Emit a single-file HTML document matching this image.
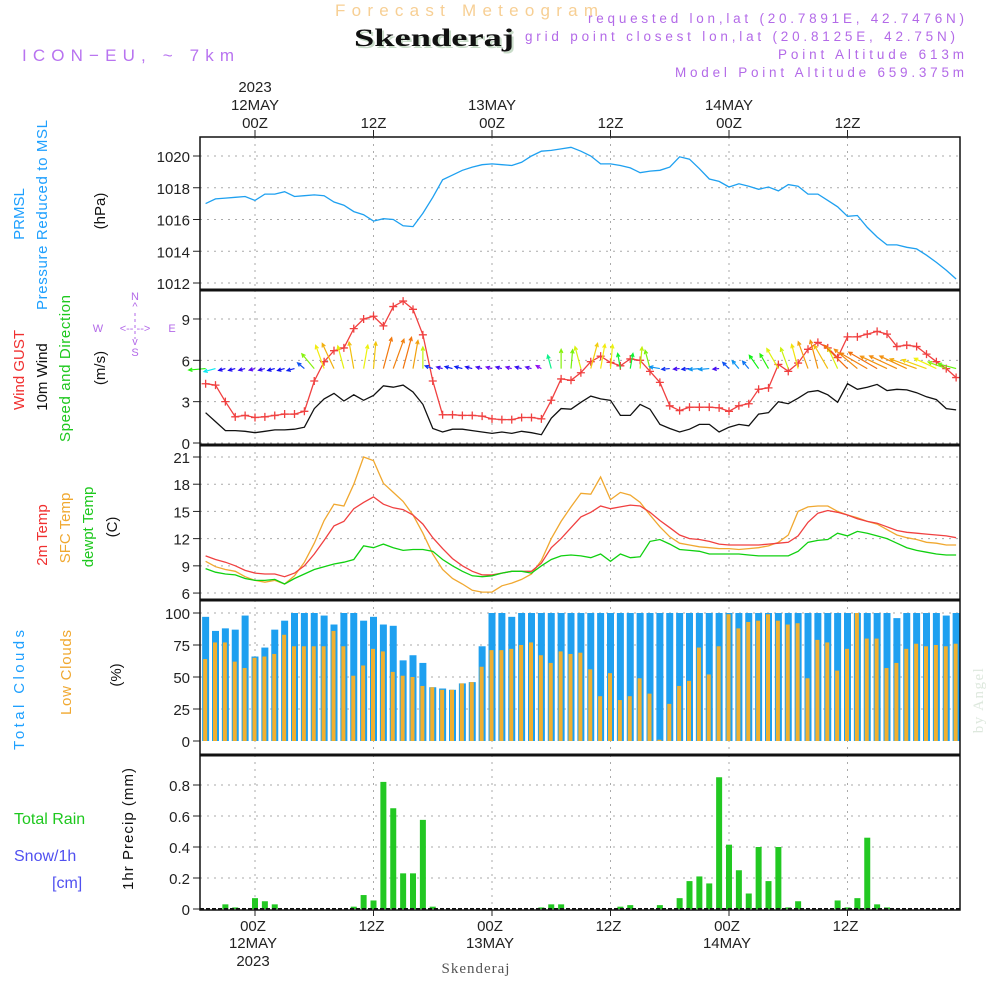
<!DOCTYPE html>
<html><head><meta charset="utf-8"><style>
html,body{margin:0;padding:0;background:#fff;}
svg{display:block;font-family:"Liberation Sans",sans-serif;}
</style></head><body>
<svg id="chart" width="1000" height="1000" viewBox="0 0 1000 1000" xmlns="http://www.w3.org/2000/svg">
<g>
<text x="335" y="16" font-size="17" fill="#f7cf94" textLength="263" lengthAdjust="spacing">Forecast Meteogram</text>
<text x="356" y="48" font-size="25" font-weight="bold" font-family="Liberation Serif,serif" fill="#c9dcc9" textLength="160" lengthAdjust="spacingAndGlyphs">Skenderaj</text>
<text x="354" y="46" font-size="25" font-weight="bold" font-family="Liberation Serif,serif" fill="#111" textLength="160" lengthAdjust="spacingAndGlyphs">Skenderaj</text>
<text x="22" y="61" font-size="17" fill="#b873f0" textLength="212" lengthAdjust="spacing">ICON−EU, ~ 7km</text>
<g font-size="13.5" fill="#b36ae8">
<text x="588" y="23" textLength="376" lengthAdjust="spacing">requested lon,lat (20.7891E, 42.7476N)</text>
<text x="525" y="41" textLength="430" lengthAdjust="spacing">grid point closest lon,lat (20.8125E, 42.75N)</text>
<text x="778" y="59" textLength="186" lengthAdjust="spacing">Point Altitude 613m</text>
<text x="675" y="77" textLength="289" lengthAdjust="spacing">Model Point Altitude 659.375m</text>
</g>
</g>
<g id="grid"></g>
<g id="marks"></g>
<g id="frames"></g>
<g id="labels" font-size="15" fill="#222"></g>
<g font-size="15">
<text transform="translate(24,214) rotate(-90)" text-anchor="middle" fill="#1ea0ff">PRMSL</text>
<text transform="translate(47,310) rotate(-90)" fill="#1ea0ff" textLength="190" lengthAdjust="spacing">Pressure Reduced to MSL</text>
<text transform="translate(105,211) rotate(-90)" text-anchor="middle" fill="#111">(hPa)</text>
<text transform="translate(24,370) rotate(-90)" text-anchor="middle" fill="#f03030">Wind GUST</text>
<text transform="translate(47,377) rotate(-90)" text-anchor="middle" fill="#111">10m Wind</text>
<text transform="translate(70,442) rotate(-90)" fill="#1ec81e" textLength="147" lengthAdjust="spacing">Speed and Direction</text>
<text transform="translate(105,368) rotate(-90)" text-anchor="middle" fill="#111">(m/s)</text>
<g fill="#b36ae8" font-size="11">
<text x="135" y="300" text-anchor="middle">N</text><text x="135" y="310" text-anchor="middle">^</text>
<text x="98" y="332" text-anchor="middle">W</text><text x="135" y="332" text-anchor="middle">&lt;-- --&gt;</text><text x="172" y="332" text-anchor="middle">E</text>
<text x="135" y="345" text-anchor="middle">v</text><text x="135" y="356" text-anchor="middle">S</text>
<line x1="135" y1="313" x2="135" y2="339" stroke="#b36ae8" stroke-dasharray="3,3"/>
</g>
<text transform="translate(47,535) rotate(-90)" text-anchor="middle" fill="#f03030">2m Temp</text>
<text transform="translate(70,528) rotate(-90)" text-anchor="middle" fill="#f0a830">SFC Temp</text>
<text transform="translate(93,527) rotate(-90)" text-anchor="middle" fill="#1ec81e">dewpt Temp</text>
<text transform="translate(117,527) rotate(-90)" text-anchor="middle" fill="#111">(C)</text>
<text transform="translate(24,750) rotate(-90)" fill="#1ea0ff" textLength="120" lengthAdjust="spacing">Total Clouds</text>
<text transform="translate(71,715) rotate(-90)" fill="#f0a830" textLength="85" lengthAdjust="spacing">Low Clouds</text>
<text transform="translate(121,675) rotate(-90)" text-anchor="middle" fill="#111">(%)</text>
<text x="14" y="824" fill="#1ec81e" font-size="16">Total   Rain</text>
<text x="14" y="861" fill="#5050f0" font-size="16">Snow/1h</text>
<text x="52" y="888" fill="#5050f0" font-size="16">[cm]</text>
<text transform="translate(133,890) rotate(-90)" fill="#111" textLength="122" lengthAdjust="spacing">1hr Precip (mm)</text>
<text transform="translate(983,700) rotate(-90)" text-anchor="middle" fill="#dde8dd" font-family="Liberation Serif,serif" letter-spacing="1.5">by Angel</text>
<text x="476" y="973" text-anchor="middle" fill="#555" font-family="Liberation Serif,serif" letter-spacing="1">Skenderaj</text>
</g>
</svg>
<script>
const pressure=[1017.0,1017.3,1017.35,1017.4,1017.45,1017.2,1017.6,1017.6,1017.75,1017.45,1017.5,1017.55,1017.5,1017.1,1016.9,1016.5,1016.3,1015.9,1016.05,1016.0,1015.6,1015.55,1016.4,1017.4,1018.5,1018.8,1019.1,1019.3,1019.45,1019.5,1019.45,1019.4,1019.6,1020.0,1020.3,1020.35,1020.45,1020.55,1020.3,1020.0,1019.5,1019.5,1019.4,1019.25,1018.95,1019.05,1019.1,1019.3,1019.95,1019.8,1019.2,1018.55,1018.4,1018.05,1018.25,1018.1,1017.9,1018.05,1017.8,1018.2,1018.1,1017.6,1017.6,1017.2,1016.8,1016.2,1016.25,1015.5,1014.9,1014.4,1014.4,1014.25,1014.15,1013.75,1013.3,1012.8,1012.25];
const windSpeed=[2.2,1.55,0.9,0.9,0.85,0.75,0.85,0.95,0.95,1.0,1.15,2.5,3.2,3.6,3.05,3.5,3.1,3.45,4.15,4.05,4.2,3.7,2.8,1.05,0.8,1.0,1.0,0.9,0.8,0.7,0.8,0.7,0.85,0.75,0.6,1.8,2.5,2.45,2.95,3.4,3.2,3.1,2.0,2.0,2.8,2.45,1.35,1.05,0.8,1.0,1.35,1.35,0.8,1.15,1.35,1.25,2.1,2.2,3.0,2.85,3.25,3.7,3.8,3.5,2.95,4.3,3.9,4.05,4.25,3.8,3.9,3.85,3.65,3.35,3.15,2.5,2.4];
const windGust=[4.3,4.2,3.0,1.9,2.0,1.85,1.9,2.0,2.1,2.1,2.3,4.5,5.9,6.7,6.9,8.3,9.0,9.2,8.5,9.9,10.3,9.7,7.85,4.5,2.05,2.05,2.0,2.0,1.95,1.75,1.7,1.7,1.85,1.85,1.75,3.1,4.65,4.55,5.1,5.9,6.3,5.85,5.6,6.1,6.0,5.2,4.4,2.7,2.35,2.6,2.6,2.6,2.55,2.3,2.7,2.85,3.9,4.0,5.7,5.2,5.8,6.8,7.3,6.9,6.2,7.7,7.7,7.9,8.1,7.9,7.0,7.1,7.0,6.45,5.9,5.4,4.75];
const windDir=[265,255,255,255,255,255,255,255,255,255,310,320,340,335,345,350,10,5,15,20,15,10,0,290,285,285,285,285,285,285,285,285,285,285,300,345,0,5,345,15,10,5,350,10,5,345,280,265,265,265,265,265,265,315,320,320,325,330,330,340,345,340,345,330,335,315,310,300,300,295,295,295,290,290,295,290,285];
const temp2m=[10.1,9.7,9.4,9.0,8.5,8.2,8.1,8.1,7.8,8.2,9.0,10.3,11.8,13.4,13.9,15.3,16.0,16.6,15.8,15.4,15.2,14.6,13.6,12.1,10.9,9.8,9.0,8.4,8.0,8.0,8.2,8.4,8.4,8.4,9.3,11.0,12.0,13.2,14.4,14.9,15.6,15.3,15.5,15.7,15.6,14.9,14.0,13.2,12.4,12.0,11.9,11.7,11.4,11.3,11.3,11.3,11.3,11.4,11.5,11.6,12.3,13.8,14.8,15.1,14.9,14.6,14.2,13.9,13.7,13.3,12.9,12.7,12.6,12.5,12.4,12.3,12.1];
const tempSfc=[9.5,8.9,8.6,8.4,7.8,7.4,7.2,7.4,7.0,7.9,9.4,11.5,14.0,15.8,15.6,18.0,21.0,20.6,18.1,17.1,16.1,14.6,12.6,10.3,8.6,7.6,7.0,6.3,6.1,6.1,6.8,7.1,7.5,8.1,9.6,12.0,13.9,15.5,17.0,16.9,18.8,16.3,17.1,16.8,16.0,14.6,13.3,12.2,11.5,11.3,11.1,11.0,10.9,10.9,10.8,10.9,11.0,11.2,11.6,12.4,15.0,15.5,15.6,15.6,15.0,14.6,14.3,13.9,13.6,13.0,12.4,12.1,11.9,11.6,11.5,11.3,11.3];
const dewpt=[8.7,8.3,8.1,8.0,7.6,7.4,7.4,7.5,7.0,7.6,8.1,8.6,8.9,9.2,9.4,9.7,11.2,11.0,11.4,11.0,10.7,10.8,10.8,10.6,9.7,9.0,8.4,7.9,7.8,7.9,8.2,8.4,8.4,8.2,9.0,9.7,10.1,10.2,10.1,9.9,10.3,9.5,10.3,9.9,10.0,11.7,11.9,11.4,10.8,10.7,10.6,10.3,10.3,10.3,10.3,10.2,10.1,10.1,10.1,10.1,10.6,11.6,11.8,11.9,12.6,12.3,12.8,12.6,12.3,12.0,11.5,11.0,10.7,10.5,10.3,10.2,10.2];
const totalClouds=[97,86,88,87,98,66,73,87,94,100,100,100,98,91,100,100,94,97,91,90,63,67,61,42,41,40,45,46,74,100,100,97,100,100,100,100,100,100,100,100,100,100,100,100,100,100,100,100,100,100,100,100,100,100,100,100,100,100,100,100,100,100,100,100,100,100,100,100,100,100,96,100,100,100,100,98,100];
const lowClouds=[64,77,77,62,57,65,66,68,83,74,74,74,74,86,74,51,59,72,70,54,51,50,43,42,40,40,45,46,58,71,71,72,75,77,67,61,70,68,69,56,35,53,32,35,49,37,1,29,43,47,73,52,74,99,88,93,94,99,94,91,92,49,79,77,55,72,100,80,80,57,61,72,76,74,75,74,76];
const precip=[0,0,0.03,0.01,0,0.07,0.05,0.03,0,0,0,0,0,0,0,0.015,0.09,0.055,0.82,0.65,0.23,0.23,0.575,0.015,0,0,0,0,0,0,0,0,0,0,0.01,0.03,0.03,0,0,0,0,0,0.015,0.025,0,0,0.025,0,0.07,0.18,0.21,0.165,0.85,0.415,0.25,0.1,0.4,0.18,0.4,0.01,0.05,0,0,0,0.055,0.01,0.07,0.46,0.03,0.01,0,0,0,0,0,0,0];
const pressureTicks=[1012,1014,1016,1018,1020];
const windTicks=[0,3,6,9];
const tempTicks=[6,9,12,15,18,21];
const cloudTicks=[0,25,50,75,100];
const precipTicks=[0,0.2,0.4,0.6,0.8];
const timeTicks=[0,12,24,36,48,60];
const timeLabels=["00Z","12Z","00Z","12Z","00Z","12Z"];
const dayLabels=["12MAY","","13MAY","","14MAY",""];
const firstHour=-5;

const NS="http://www.w3.org/2000/svg";
const X0=200,X1=960;
const xH=h=>255+h*9.875;
const yP=v=>156+(1020-v)*15.875;
const yW=v=>443-v*13.78;
const yT=v=>457+(21-v)*9.07;
const yC=v=>741-v*1.28;
const yR=v=>909-v*155;
function mk(tag,attrs,parent){const e=document.createElementNS(NS,tag);for(const k in attrs)e.setAttribute(k,attrs[k]);parent.appendChild(e);return e;}
const grid=document.getElementById('grid'),marks=document.getElementById('marks'),frames=document.getElementById('frames'),labels=document.getElementById('labels');
const panels=[{t:137,b:290,ticks:pressureTicks,y:yP,fmt:v=>v,name:'pressure'},{t:290,b:445,ticks:windTicks,y:yW,fmt:v=>v,name:'wind'},{t:445,b:600,ticks:tempTicks,y:yT,fmt:v=>v,name:'temp'},{t:600,b:755,ticks:cloudTicks,y:yC,fmt:v=>v,name:'cloud'},{t:755,b:910,ticks:precipTicks,y:yR,fmt:v=>v===0?'0':v.toFixed(1),name:'precip'}];
panels.forEach(p=>{
  timeTicks.forEach(h=>{const l=mk('line',{x1:xH(h),x2:xH(h),y1:p.t,y2:p.b,stroke:'#aaa','stroke-dasharray':'2,5'},grid);
    
    });
  p.ticks.forEach(v=>{const y=p.y(v);
    if(v!==0||p.name==='wind'){const l=mk('line',{x1:X0,x2:X1,y1:y,y2:y,stroke:'#aaa','stroke-dasharray':'2,5'},grid);
      
      }
    mk('line',{x1:X0-7,x2:X0,y1:y,y2:y,stroke:'#222'},frames);
    const t=mk('text',{x:X0-10,y:y+6,'text-anchor':'end'},labels);t.textContent=p.fmt(v);
    
    });
});
const n=pressure.length;
const hours=[];for(let i=0;i<n;i++)hours.push(firstHour+i);
function line(arr,yf,color,name){const pts=arr.map((v,i)=>xH(hours[i]).toFixed(1)+','+yf(v).toFixed(1)).join(' ');
  const l=mk('polyline',{points:pts,fill:'none',stroke:color,'stroke-width':1.3},marks);
  
  }
totalClouds.forEach((v,i)=>{const x=xH(hours[i]);const r=mk('rect',{x:Math.max(X0,x-3.5),y:yC(v),width:x-3.5<X0?x+3.5-X0:7,height:yC(0)-yC(v),fill:'#1ea0f0'},marks);
  
  });
lowClouds.forEach((v,i)=>{const x=xH(hours[i]);const r=mk('rect',{x:Math.max(X0,x-2.5),y:yC(v),width:x-2.5<X0?x+1.5-X0:4,height:yC(0)-yC(v),fill:'#f0b030'},marks);
  
  });
precip.forEach((v,i)=>{if(v<=0)return;const x=xH(hours[i]);const r=mk('rect',{x:x-3,y:yR(v),width:6,height:yR(0)-yR(v),fill:'#22c822'},marks);
  
  });
{const l=mk('line',{x1:X0,x2:X1,y1:yR(0),y2:yR(0),stroke:'#111','stroke-width':2,'stroke-dasharray':'4,2'},marks);

}
line(pressure,yP,'#1ea0f0','pressure-line');
line(windSpeed,yW,'#111','wind-speed-line');
line(windGust,yW,'#f04040','wind-gust-line');
line(tempSfc,yT,'#f0a830','sfc-temp-line');
line(temp2m,yT,'#f04040','temp-2m-line');
line(dewpt,yT,'#10d010','dewpt-line');
windGust.forEach((v,i)=>{const x=xH(hours[i]),y=yW(v);const g=mk('path',{d:`M${x-4},${y}H${x+4}M${x},${y-4}V${y+4}`,stroke:'#f04040','stroke-width':1.3},marks);
  
  });
const stops=[[0.6,275],[1.0,235],[1.4,200],[2.0,130],[2.6,80],[3.2,58],[3.8,35],[4.3,25]];
function hue(s){if(s<=stops[0][0])return stops[0][1];for(let k=1;k<stops.length;k++){if(s<=stops[k][0]){const a=stops[k-1],b=stops[k];return a[1]+(b[1]-a[1])*(s-a[0])/(b[0]-a[0]);}}return 25;}
windDir.forEach((d,i)=>{const s=windSpeed[i];const x=xH(hours[i]),y=yW(5.4);const L=Math.max(6,s*7.7);const r=d*Math.PI/180;
  const tx=x+L*Math.sin(r),ty=y-L*Math.cos(r);const c=`hsl(${hue(s)},90%,50%)`;
  const a1=r+Math.PI-0.45,a2=r+Math.PI+0.45;
  const p=mk('path',{d:`M${x},${y}L${tx},${ty}M${tx+4*Math.sin(a1)},${ty-4*Math.cos(a1)}L${tx},${ty}L${tx+4*Math.sin(a2)},${ty-4*Math.cos(a2)}`,stroke:c,fill:'none','stroke-width':1.2},marks);
  
  });
mk('rect',{x:X0,y:137,width:X1-X0,height:773,fill:'none',stroke:'#111','stroke-width':1.5},frames);
[290,445,600,755].forEach(y=>{const l=mk('line',{x1:X0,x2:X1,y1:y,y2:y,stroke:'#111','stroke-width':3},frames);
  
  });
timeTicks.forEach((h,i)=>{const x=xH(h);
  mk('line',{x1:x,x2:x,y1:130,y2:137,stroke:'#222'},frames);
  mk('line',{x1:x,x2:x,y1:910,y2:916,stroke:'#222'},frames);
  const t=mk('text',{x:x,y:128,'text-anchor':'middle'},labels);t.textContent=timeLabels[i];
  
  
  const b=mk('text',{x:x-2,y:931,'text-anchor':'middle'},labels);b.textContent=timeLabels[i];
  
  
  if(dayLabels[i]){const d=mk('text',{x:x,y:110,'text-anchor':'middle'},labels);d.textContent=dayLabels[i];
    
    
    const e=mk('text',{x:x-2,y:948,'text-anchor':'middle'},labels);e.textContent=dayLabels[i];
    
    }
});
{const t=mk('text',{x:xH(0),y:92,'text-anchor':'middle'},labels);t.textContent='2023';


const b=mk('text',{x:xH(0)-2,y:966,'text-anchor':'middle'},labels);b.textContent='2023';

}
</script>
</body></html>
